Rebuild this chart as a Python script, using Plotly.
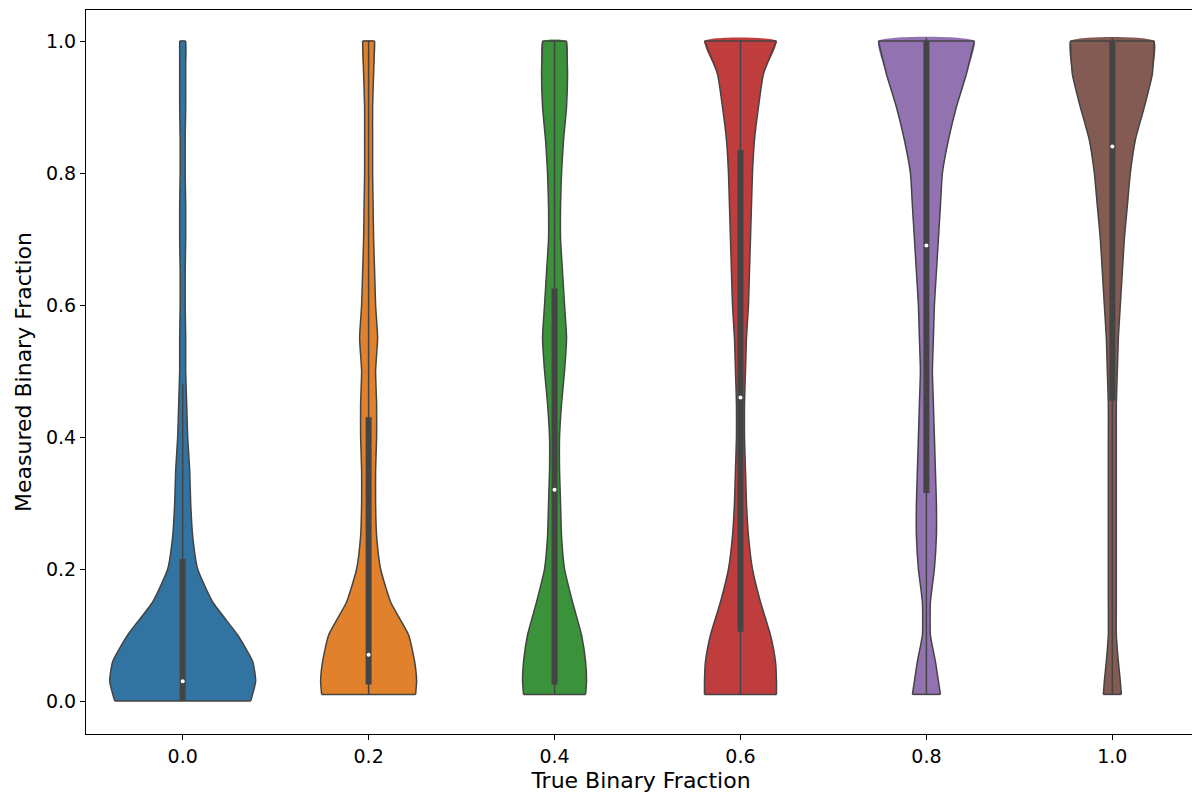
import plotly.graph_objects as go

categories = ["0.0", "0.2", "0.4", "0.6", "0.8", "1.0"]
colors = ["#3274a1", "#e1812c", "#3a923a", "#c03d3e", "#9372b2", "#845b53"]

# density profiles (relative half-widths)
y_levels = [0.0, 0.03, 0.06, 0.1, 0.15, 0.2, 0.25, 0.3, 0.35, 0.4, 0.45, 0.5, 0.55, 0.6,
            0.65, 0.7, 0.75, 0.8, 0.85, 0.9, 0.95, 1.0]
dens = [
    [68, 73, 70, 55, 30, 15, 10, 8, 7, 5, 4, 3, 3, 2.5, 2.5, 3, 3, 2.5, 2.5, 3, 3, 3],
    [47, 48, 46, 40, 22, 12, 8, 7, 7, 8, 8, 7, 9, 7, 6, 5, 4.5, 4, 4, 4, 5, 6],
    [31, 32, 31, 27, 18, 10, 7, 6, 5, 5, 7, 10, 12, 10, 8, 6, 6, 7, 9, 12, 13, 12],
    [36, 36, 35, 30, 20, 12, 8, 6, 5, 4, 4, 5, 6, 8, 9, 10, 11, 12, 14, 18, 23, 36],
    [14, 12, 9, 4, 4, 8, 10, 10, 9, 8, 7, 6, 7, 8, 10, 12, 14, 16, 22, 30, 40, 48],
    [9, 8, 6, 4, 4, 4, 4, 4, 4, 4, 4, 5, 6, 8, 10, 12, 15, 18, 23, 32, 40, 42],
]
y_min = [0.0, 0.01, 0.01, 0.01, 0.01, 0.01]
y_max = [1.0, 1.0, 1.0, 1.0, 1.005, 1.005]
q1 = [0.0, 0.025, 0.025, 0.105, 0.315, 0.455]
q3 = [0.215, 0.43, 0.625, 0.835, 1.0, 1.0]
median = [0.03, 0.07, 0.32, 0.46, 0.69, 0.84]
whisk_lo = [0.0, 0.01, 0.01, 0.01, 0.01, 0.01]
whisk_hi = [0.48, 1.0, 1.0, 1.0, 1.005, 1.005]

SCALE = 1 / 186.0
fig = go.Figure()
for i in range(len(categories)):
    ys = [min(max(y, y_min[i]), y_max[i]) for y in y_levels]
    w = [d * SCALE for d in dens[i]]
    # filled body (no outline) + outline drawn as separate sides so corners stay sharp
    right_x = [i + v for v in w]
    left_x = [i - v for v in w]
    fig.add_trace(go.Scatter(x=right_x + left_x[::-1], y=ys + ys[::-1], mode="lines", fill="toself",
                             fillcolor=colors[i], line=dict(width=0, shape="spline", smoothing=0.5),
                             hoverinfo="skip", showlegend=False))
    for side in (right_x, left_x):
        fig.add_trace(go.Scatter(x=side, y=ys, mode="lines",
                                 line=dict(color="#444444", width=1.5, shape="spline", smoothing=0.5),
                                 hoverinfo="skip", showlegend=False))
    for k in (0, -1):
        fig.add_trace(go.Scatter(x=[left_x[k], right_x[k]], y=[ys[k], ys[k]], mode="lines",
                                 line=dict(color="#444444", width=1.5), showlegend=False))
    fig.add_trace(go.Scatter(x=[i, i], y=[whisk_lo[i], whisk_hi[i]], mode="lines",
                             line=dict(color="#444444", width=1.5), showlegend=False))
    fig.add_trace(go.Scatter(x=[i, i], y=[q1[i], q3[i]], mode="lines",
                             line=dict(color="#444444", width=6), showlegend=False))
    fig.add_trace(go.Scatter(x=[i], y=[median[i]], mode="markers",
                             marker=dict(color="white", size=4), showlegend=False))

axis_common = dict(showline=True, linecolor="black", linewidth=1, mirror=True, ticks="outside",
                   ticklen=5, tickcolor="black", showgrid=False, zeroline=False, automargin=False,
                   tickfont=dict(size=19, color="black"))
fig.update_layout(
    width=1200, height=795, plot_bgcolor="white", paper_bgcolor="white",
    font=dict(family="DejaVu Sans", color="black"),
    margin=dict(l=78, r=12, t=2, b=69),
    xaxis=dict(range=[-0.52, 5.45], tickvals=list(range(6)), ticktext=categories,
               title=dict(text="True Binary Fraction", font=dict(size=22), standoff=6), **axis_common),
    yaxis=dict(range=[-0.05, 1.047], tickvals=[0, 0.2, 0.4, 0.6, 0.8, 1.0], tickformat=".1f",
               title=dict(text="Measured Binary Fraction", font=dict(size=22), standoff=8), **axis_common),
)
fig.write_html("out.html")
